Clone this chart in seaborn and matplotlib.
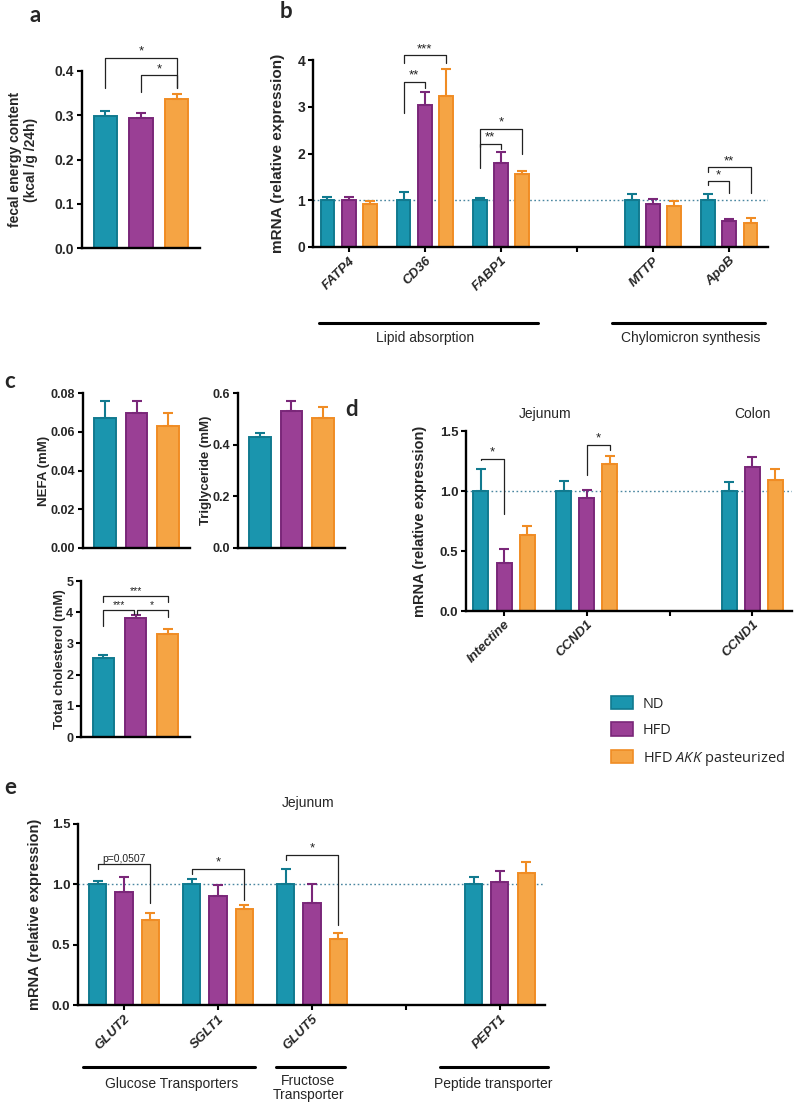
import numpy as np
import pandas as pd
import seaborn as sns
import matplotlib
matplotlib.use("Agg")
import matplotlib.pyplot as plt
from matplotlib.patches import Patch
from matplotlib.ticker import FormatStrFormatter

# ---------------- data ----------------
GROUPS = ["ND", "HFD", "HFD AKK pasteurized"]

a_mean = [0.298, 0.293, 0.337]
a_sem = [0.011, 0.012, 0.012]

b_genes = ["FATP4", "CD36", "FABP1", "MTTP", "ApoB"]
b_nd = [1.0, 1.0, 1.0, 1.0, 1.0]
b_nd_sem = [0.07, 0.17, 0.05, 0.14, 0.14]
b_hfd = [1.0, 3.04, 1.79, 0.91, 0.56]
b_hfd_sem = [0.06, 0.27, 0.24, 0.12, 0.04]
b_akk = [0.93, 3.24, 1.56, 0.886, 0.52]
b_akk_sem = [0.06, 0.56, 0.07, 0.094, 0.10]

nefa_mean = [0.0673, 0.0697, 0.0628]
nefa_sem = [0.0084, 0.0063, 0.0071]
tg_mean = [0.430, 0.531, 0.505]
tg_sem = [0.015, 0.037, 0.039]
chol_mean = [2.52, 3.81, 3.29]
chol_sem = [0.11, 0.11, 0.16]

d_keys = ["Intectine", "CCND1 jejunum", "CCND1 colon"]
d_labels = ["Intectine", "CCND1", "CCND1"]
d_nd = [1.0, 1.0, 1.0]
d_nd_sem = [0.187, 0.084, 0.078]
d_hfd = [0.40, 0.945, 1.20]
d_hfd_sem = [0.116, 0.067, 0.086]
d_akk = [0.635, 1.228, 1.095]
d_akk_sem = [0.072, 0.061, 0.092]

e_genes = ["GLUT2", "SGLT1", "GLUT5", "PEPT1"]
e_nd = [1.0, 1.0, 1.0, 1.0]
e_nd_sem = [0.03, 0.046, 0.13, 0.064]
e_hfd = [0.933, 0.905, 0.847, 1.02]
e_hfd_sem = [0.127, 0.089, 0.158, 0.093]
e_akk = [0.706, 0.794, 0.545, 1.097]
e_akk_sem = [0.054, 0.031, 0.055, 0.088]

# ---------------- style ----------------
sns.set_theme(style="ticks")
plt.rcParams["font.family"] = ["Liberation Sans", "DejaVu Sans"]
plt.rcParams["font.weight"] = "bold"
plt.rcParams["mathtext.fontset"] = "custom"
plt.rcParams["mathtext.it"] = "Open Sans:style=italic:weight=normal"
plt.rcParams["mathtext.rm"] = "Open Sans:weight=normal"

FILL = {"ND": "#1a95ae", "HFD": "#9a3f95", "HFD AKK pasteurized": "#f5a444"}
EDGE = {"ND": "#117a8f", "HFD": "#7a2779", "HFD AKK pasteurized": "#f08c24"}
DOT = "#4a86a0"

W, H = 800, 1103
fig = plt.figure(figsize=(W / 100, H / 100), dpi=100)


def px_axes(x0, y0, x1, y1):
    return fig.add_axes([x0 / W, 1 - y1 / H, (x1 - x0) / W, (y1 - y0) / H])


def style(ax, xticks=True, ts=10):
    sns.despine(ax=ax)
    for s in ["left", "bottom"]:
        ax.spines[s].set_linewidth(1.7)
        ax.spines[s].set_color("black")
    ax.tick_params(axis="both", direction="out", width=1.5, length=3.5,
                   labelsize=ts, color="black", pad=2)
    if not xticks:
        ax.set_xticks([])
    ax.set_xlabel("")
    ax.grid(False)


def bold_ticks(ax):
    for lbl in ax.get_yticklabels():
        lbl.set_fontweight("bold")


def ylab(ax, text, right_px, size):
    ax.set_ylabel(text, fontsize=size, fontweight="bold")
    bb = ax.get_position()
    ax.yaxis.set_label_coords((right_px - bb.x0 * W) / (bb.width * W), 0.5)


def finish_bars(ax, order, sem_lookup):
    pos = {}
    for g, cont in zip(GROUPS, ax.containers):
        for p in cont:
            xc = p.get_x() + p.get_width() / 2
            k = order[int(round(xc))]
            top = p.get_height()
            p.set_edgecolor(EDGE[g])
            p.set_linewidth(1.4)
            pos[(k, g)] = (xc, top)
            err = sem_lookup[(k, g)]
            ax.errorbar([xc], [top], yerr=[[0], [err]], fmt="none",
                        ecolor=EDGE[g], elinewidth=1.5, capsize=3.5,
                        capthick=1.5, zorder=1)
    return pos


def grouped(ax, keys, means, sems, order):
    rows = []
    look = {}
    for g in GROUPS:
        for k, m, s in zip(keys, means[g], sems[g]):
            rows.append({"gene": k, "group": g, "value": m})
            look[(k, g)] = s
    df = pd.DataFrame(rows)
    sns.barplot(data=df, x="gene", y="value", hue="group", order=order,
                hue_order=GROUPS, palette=FILL, width=0.84, gap=0.35,
                errorbar=None, saturation=1, legend=False, ax=ax)
    return finish_bars(ax, order, look)


def single(ax, means, sems, width):
    df = pd.DataFrame({"group": GROUPS, "value": means})
    look = {(g, g): s for g, s in zip(GROUPS, sems)}
    sns.barplot(data=df, x="group", y="value", hue="group", order=GROUPS,
                hue_order=GROUPS, palette=FILL, width=width,
                errorbar=None, saturation=1, legend=False, ax=ax)
    return finish_bars(ax, GROUPS, look)


def bracket(ax, pos, k1, g1, k2, g2, top, b1, b2, label, fs=9.5, dx1=0.0, dx2=0.0):
    x1 = pos[(k1, g1)][0] + dx1
    x2 = pos[(k2, g2)][0] + dx2
    ax.plot([x1, x1, x2, x2], [b1, top, top, b2], color="#222222", lw=0.9,
            clip_on=False, zorder=5)
    ax.text((x1 + x2) / 2, top, label, ha="center", va="bottom", fontsize=fs,
            fontweight="normal", color="#222222", clip_on=False)


def xlabels(ax, labels, fs=9.5):
    ax.set_xticks(range(len(labels)))
    ax.set_xticklabels(labels, rotation=45, ha="right", rotation_mode="anchor",
                       fontstyle="italic", fontweight="bold", fontsize=fs)


ND, HFD, AKK = GROUPS

# ---------------- panel a ----------------
ax = px_axes(82, 71, 200, 248)
pos = single(ax, a_mean, a_sem, 0.64)
style(ax, xticks=False, ts=10)
ax.set_xlim(-0.64, 2.64)
ax.set_ylim(0, 0.4)
ax.set_yticks([0, 0.1, 0.2, 0.3, 0.4])
ax.yaxis.set_major_formatter(FormatStrFormatter("%.1f"))
bold_ticks(ax)
ylab(ax, "fecal energy content\n(kcal /g /24h)", 38, 10)
bracket(ax, pos, ND, ND, AKK, AKK, 0.43, 0.3625, 0.3625, "*")
bracket(ax, pos, HFD, HFD, AKK, AKK, 0.39, 0.353, 0.3625, "*")

# ---------------- panel b ----------------
ax = px_axes(313, 60, 768, 247)
b_order = ["FATP4", "CD36", "FABP1", "gap", "MTTP", "ApoB"]
pos = grouped(ax, b_genes, {ND: b_nd, HFD: b_hfd, AKK: b_akk},
              {ND: b_nd_sem, HFD: b_hfd_sem, AKK: b_akk_sem}, b_order)
style(ax, ts=10)
ax.axhline(1.0, color=DOT, lw=1.0, ls=(0, (1.2, 1.8)), zorder=0.5)
ax.set_xlim(-0.47, 5.51)
ax.set_ylim(0, 4)
ax.set_yticks([0, 1, 2, 3, 4])
bold_ticks(ax)
xlabels(ax, ["FATP4", "CD36", "FABP1", "", "MTTP", "ApoB"])
ylab(ax, "mRNA (relative expression)", 285, 11)
bracket(ax, pos, "CD36", ND, "CD36", HFD, 3.54, 2.86, 3.41, "**")
bracket(ax, pos, "CD36", ND, "CD36", AKK, 4.10, 3.93, 3.94, "***")
bracket(ax, pos, "FABP1", ND, "FABP1", HFD, 2.21, 2.14, 2.10, "**")
bracket(ax, pos, "FABP1", ND, "FABP1", AKK, 2.53, 1.70, 1.99, "*")
bracket(ax, pos, "ApoB", ND, "ApoB", HFD, 1.41, 1.32, 1.16, "*")
bracket(ax, pos, "ApoB", ND, "ApoB", AKK, 1.71, 1.61, 1.16, "**")
tr = ax.get_xaxis_transform()
ax.plot([-0.39, 2.49], [-0.406, -0.406], color="black", lw=2.2, transform=tr, clip_on=False)
ax.plot([3.46, 5.47], [-0.406, -0.406], color="black", lw=2.2, transform=tr, clip_on=False)
ax.text(1.0, -0.45, "Lipid absorption", transform=tr, ha="center", va="top",
        fontsize=10, fontweight="normal")
ax.text(4.49, -0.45, "Chylomicron synthesis", transform=tr, ha="center", va="top",
        fontsize=10, fontweight="normal")

# ---------------- panel c ----------------
ax = px_axes(83, 393, 190, 548)
single(ax, nefa_mean, nefa_sem, 0.67)
style(ax, xticks=False, ts=9)
ax.set_xlim(-0.7, 2.7)
ax.set_ylim(0, 0.08)
ax.set_yticks([0, 0.02, 0.04, 0.06, 0.08])
ax.yaxis.set_major_formatter(FormatStrFormatter("%.2f"))
bold_ticks(ax)
ylab(ax, "NEFA (mM)", 50, 9.5)

ax = px_axes(238, 393, 345, 548)
single(ax, tg_mean, tg_sem, 0.67)
style(ax, xticks=False, ts=9)
ax.set_xlim(-0.7, 2.7)
ax.set_ylim(0, 0.6)
ax.set_yticks([0, 0.2, 0.4, 0.6])
ax.yaxis.set_major_formatter(FormatStrFormatter("%.1f"))
bold_ticks(ax)
ylab(ax, "Triglyceride (mM)", 212, 9.5)

ax = px_axes(81, 581, 190, 737)
pos = single(ax, chol_mean, chol_sem, 0.67)
style(ax, xticks=False, ts=9)
ax.set_xlim(-0.7, 2.7)
ax.set_ylim(0, 5)
ax.set_yticks([0, 1, 2, 3, 4, 5])
bold_ticks(ax)
ylab(ax, "Total cholesterol (mM)", 66, 9.5)
bracket(ax, pos, ND, ND, AKK, AKK, 4.52, 4.33, 4.33, "***", fs=7.5)
bracket(ax, pos, ND, ND, HFD, HFD, 4.06, 3.56, 3.95, "***", fs=7.5, dx2=-0.05)
bracket(ax, pos, HFD, HFD, AKK, AKK, 4.06, 3.95, 3.85, "*", fs=7.5, dx1=0.05)

# ---------------- panel d ----------------
ax = px_axes(466, 431, 792, 611)
d_order = ["Intectine", "CCND1 jejunum", "gap", "CCND1 colon"]
pos = grouped(ax, d_keys, {ND: d_nd, HFD: d_hfd, AKK: d_akk},
              {ND: d_nd_sem, HFD: d_hfd_sem, AKK: d_akk_sem}, d_order)
style(ax, ts=9.5)
ax.axhline(1.0, color=DOT, lw=1.0, ls=(0, (1.2, 1.8)), zorder=0.5)
ax.set_xlim(-0.46, 3.48)
ax.set_ylim(0, 1.5)
ax.set_yticks([0, 0.5, 1.0, 1.5])
ax.yaxis.set_major_formatter(FormatStrFormatter("%.1f"))
bold_ticks(ax)
xlabels(ax, ["Intectine", "CCND1", "", "CCND1"])
ylab(ax, "mRNA (relative expression)", 427, 10.5)
bracket(ax, pos, "Intectine", ND, "Intectine", HFD, 1.27, 1.256, 0.81, "*")
bracket(ax, pos, "CCND1 jejunum", HFD, "CCND1 jejunum", AKK, 1.386, 1.13, 1.34, "*")
tr = ax.get_xaxis_transform()
ax.text(0.5, 1.094, "Jejunum", transform=tr, ha="center", va="center",
        fontsize=10, fontweight="normal")
ax.text(3.0, 1.094, "Colon", transform=tr, ha="center", va="center",
        fontsize=10, fontweight="normal")

# ---------------- panel e ----------------
ax = px_axes(78, 824, 545, 1005)
e_order = ["GLUT2", "SGLT1", "GLUT5", "gap", "PEPT1"]
pos = grouped(ax, e_genes, {ND: e_nd, HFD: e_hfd, AKK: e_akk},
              {ND: e_nd_sem, HFD: e_hfd_sem, AKK: e_akk_sem}, e_order)
style(ax, ts=9.5)
ax.axhline(1.0, color=DOT, lw=1.0, ls=(0, (1.2, 1.8)), zorder=0.5)
ax.set_xlim(-0.49, 4.48)
ax.set_ylim(0, 1.5)
ax.set_yticks([0, 0.5, 1.0, 1.5])
ax.yaxis.set_major_formatter(FormatStrFormatter("%.1f"))
bold_ticks(ax)
xlabels(ax, ["GLUT2", "SGLT1", "GLUT5", "", "PEPT1"])
ylab(ax, "mRNA (relative expression)", 42, 10.5)
bracket(ax, pos, "GLUT2", ND, "GLUT2", AKK, 1.17, 1.127, 0.844, "p=0,0507", fs=7.5)
bracket(ax, pos, "SGLT1", ND, "SGLT1", AKK, 1.13, 1.088, 0.87, "*")
bracket(ax, pos, "GLUT5", ND, "GLUT5", AKK, 1.245, 1.20, 0.66, "*")
tr = ax.get_xaxis_transform()
ax.text(1.96, 1.116, "Jejunum", transform=tr, ha="center", va="center",
        fontsize=10, fontweight="normal")
for x0, x1 in [(-0.44, 1.39), (1.62, 2.35), (3.36, 4.51)]:
    ax.plot([x0, x1], [-0.343, -0.343], color="black", lw=2.2, transform=tr, clip_on=False)
ax.text(0.51, -0.40, "Glucose Transporters", transform=tr, ha="center", va="top",
        fontsize=10, fontweight="normal")
ax.text(1.96, -0.38, "Fructose\nTransporter", transform=tr, ha="center", va="top",
        fontsize=10, fontweight="normal", linespacing=1.05)
ax.text(3.93, -0.40, "Peptide transporter", transform=tr, ha="center", va="top",
        fontsize=10, fontweight="normal")

# ---------------- legend ----------------
handles = [Patch(facecolor=FILL[g], edgecolor=EDGE[g], linewidth=1.2) for g in GROUPS]
labels = ["ND", "HFD", "HFD $\\mathit{AKK}$ pasteurized"]
fig.legend(handles, labels, loc="upper left", bbox_to_anchor=(611 / W, 1 - 696 / H),
           frameon=False, prop={"family": "Open Sans", "size": 10.5, "weight": "normal"},
           handlelength=1.5, handleheight=1.0, handletextpad=0.7, labelspacing=0.75,
           borderpad=0, borderaxespad=0)

# ---------------- panel letters ----------------
for lt, x, y in [("a", 35, 15), ("b", 286, 11), ("c", 10, 382), ("d", 352, 410), ("e", 10, 788)]:
    fig.text(x / W, 1 - y / H, lt, fontsize=16, fontweight="bold", family="Lato",
             ha="center", va="center")

fig.savefig("out.png", dpi=100)
